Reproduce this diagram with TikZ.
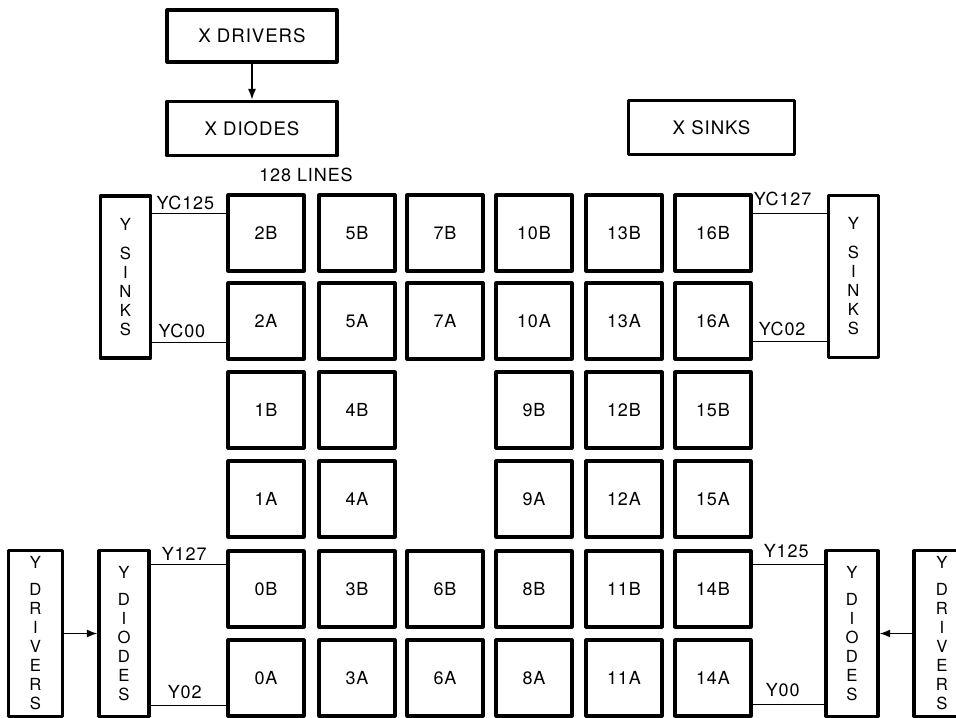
\documentclass[tikz,border=0pt]{standalone}
\usepackage{fontspec}
\setmainfont{TeX Gyre Heros}[LetterSpace=5]
\usetikzlibrary{arrows.meta,calc}

\tikzset{
  unit/.style={draw,line width=2.3pt,minimum width=57pt,minimum height=57pt,inner sep=0pt,
    font=\fontsize{13.5}{15}\selectfont},
  blockbox/.style={draw,line width=2.3pt,inner sep=0pt,font=\fontsize{14}{16}\selectfont},
  tallbox/.style={draw,line width=2.3pt,inner sep=0pt,align=center,
    font=\fontsize{12.5}{14.25}\selectfont},
  wire/.style={line width=0.9pt},
  feed/.style={line width=1.1pt,-{Latex[length=8pt,width=6pt]}},
  tag/.style={inner sep=0pt,font=\fontsize{13.5}{15}\selectfont},
}

\begin{document}
\begin{tikzpicture}[x=0.75pt,y=-0.75pt,line join=round]
  \useasboundingbox (0,0) rectangle (956,717);

  % X side
  \node[blockbox,minimum width=127.5pt,minimum height=39pt] (xdrv) at (252,36) {X DRIVERS};
  \node[blockbox,minimum width=127.5pt,minimum height=41pt] (xdio) at (252,128.5) {X DIODES};
  \node[blockbox,minimum width=124pt,minimum height=41pt] (xsnk) at (711.5,127.5) {X SINKS};
  \draw[feed] (xdrv) -- (xdio);
  \node[tag] (lines) at (306,175) {128 LINES};

  % memory units
  \foreach \lab/\cx/\cy in {2B/266/233, 5B/357/233, 7B/445/233, 10B/534/233, 13B/624/233, 16B/713/233,
                            2A/266/321, 5A/357/321, 7A/445/321, 10A/534/321, 13A/624/321, 16A/713/321,
                            1B/266/410, 4B/357/410, 9B/534/410, 12B/624/410, 15B/713/410,
                            1A/266/499, 4A/357/499, 9A/534/499, 12A/624/499, 15A/713/499,
                            0B/266/589, 3B/357/589, 6B/445/589, 8B/534/589, 11B/624/589, 14B/713/589,
                            0A/266/678, 3A/357/678, 6A/445/678, 8A/534/678, 11A/624/678, 14A/713/678}{
    \node[unit] (b\lab) at (\cx,\cy) {\lab};
  }

  % Y sinks
  \node[tallbox,minimum width=38pt,minimum height=121.5pt] (ysnkL) at (125.5,277) {Y\\[7.5pt]S\\I\\N\\K\\S};
  \node[tallbox,minimum width=38pt,minimum height=122pt] (ysnkR) at (853.5,276.5) {Y\\[7.5pt]S\\I\\N\\K\\S};

  \coordinate (yc125) at ($(b2B.north west)+(0,20)$);
  \coordinate (yc00) at ($(b2A.south west)+(0,-18)$);
  \coordinate (yc127) at ($(b16B.north east)+(0,20)$);
  \coordinate (yc02) at ($(b16A.south east)+(0,-19)$);
  \draw[wire] (ysnkL.east |- yc125) -- (yc125);
  \draw[wire] (ysnkL.east |- yc00) -- (yc00);
  \draw[wire] (yc127) -- (ysnkR.west |- yc127);
  \draw[wire] (yc02) -- (ysnkR.west |- yc02);
  \node[tag,anchor=south west] at ($(ysnkL.east |- yc125)+(4,-3)$) {YC125};
  \node[tag,anchor=south west] at ($(ysnkL.east |- yc00)+(6,-4)$) {YC00};
  \node[tag,anchor=south west] at ($(yc127)+(1,-7)$) {YC127};
  \node[tag,anchor=south west] at ($(yc02)+(6,-5)$) {YC02};

  % Y drivers and diodes
  \node[tallbox,minimum width=40pt,minimum height=124pt] (ydrvL) at (35.5,633.5) {Y\\[6pt]D\\R\\I\\V\\E\\R\\S};
  \node[tallbox,minimum width=37.5pt,minimum height=124pt] (ydioL) at (124,633.5) {Y\\[6pt]D\\I\\O\\D\\E\\S};
  \node[tallbox,minimum width=39pt,minimum height=124pt] (ydioR) at (852,633.5) {Y\\[6pt]D\\I\\O\\D\\E\\S};
  \node[tallbox,minimum width=42pt,minimum height=124pt] (ydrvR) at (942,633.5) {Y\\[6pt]D\\R\\I\\V\\E\\R\\S};
  \draw[feed] (ydrvL) -- (ydioL);
  \draw[feed] (ydrvR) -- (ydioR);

  \coordinate (y127) at ($(b0B.north west)+(0,15)$);
  \coordinate (y02) at ($(b0A.south west)+(0,-12)$);
  \coordinate (y125) at ($(b14B.north east)+(0,15)$);
  \coordinate (y00) at ($(b14A.south east)+(0,-13)$);
  \draw[wire] (ydioL.east |- y127) -- (y127);
  \draw[wire] (ydioL.east |- y02) -- (y02);
  \draw[wire] (y125) -- (ydioR.west |- y125);
  \draw[wire] (y00) -- (ydioR.west |- y00);
  \node[tag,anchor=south west] at ($(ydioL.east |- y127)+(11,-4)$) {Y127};
  \node[tag,anchor=south west] at ($(ydioL.east |- y02)+(17,-7)$) {Y02};
  \node[tag,anchor=south west] at ($(y125)+(11,-6)$) {Y125};
  \node[tag,anchor=south west] at ($(y00)+(13,-8)$) {Y00};
\end{tikzpicture}
\end{document}
